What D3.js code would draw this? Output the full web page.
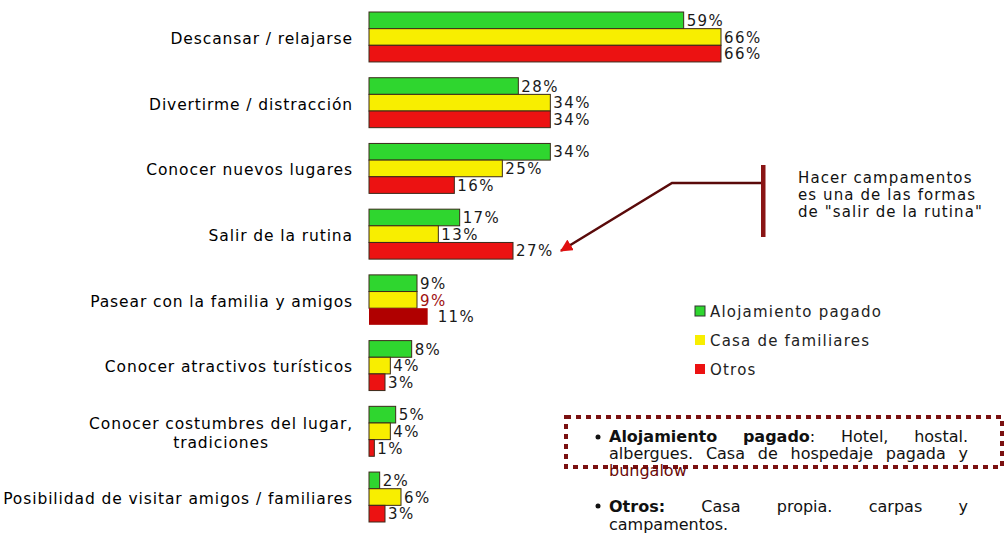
<!DOCTYPE html>
<html>
<head>
<meta charset="utf-8">
<script src="https://cdn.jsdelivr.net/npm/d3@7"></script>
<style>
  body { margin: 0; background: #fff; }
  svg { display: block; font-family: "DejaVu Sans", Verdana, sans-serif; }
</style>
</head>
<body>
<svg id="chart" width="1004" height="536"></svg>
<script>
const categories = [
  "Descansar / relajarse",
  "Divertirme / distracción",
  "Conocer nuevos lugares",
  "Salir de la rutina",
  "Pasear con la familia y amigos",
  "Conocer atractivos turísticos",
  "Conocer costumbres del lugar,|tradiciones",
  "Posibilidad de visitar amigos / familiares"
];
const seriesNames = ["Alojamiento pagado", "Casa de familiares", "Otros"];
const pagado = [59, 28, 34, 17, 9, 8, 5, 2];
const familiares = [66, 34, 25, 13, 9, 4, 4, 6];
const otros = [66, 34, 16, 27, 11, 3, 1, 3];

const colors = ["#2fd62f", "#f8ee00", "#ec1212"];

const svg = d3.select("#chart");

const rows = categories.map((c, i) => ({
  cat: c,
  vals: [pagado[i], familiares[i], otros[i]]
}));

const x = d3.scaleLinear().domain([0, 66]).range([369, 721]);
const y = d3.scaleBand().domain(categories).range([12, 522]).paddingInner(0.24).paddingOuter(0);
const ys = d3.scaleBand().domain(seriesNames).range([0, y.bandwidth()]);

const groups = svg.selectAll(".grp")
  .data(rows)
  .enter().append("g")
  .attr("class", "grp")
  .attr("transform", d => "translate(0," + y(d.cat) + ")");

groups.selectAll("rect")
  .data((d, i) => d.vals.map((v, j) => ({v: v, s: seriesNames[j], j: j, i: i})))
  .enter().append("rect")
  .attr("x", x(0))
  .attr("y", d => ys(d.s))
  .attr("width", d => x(d.v) - x(0))
  .attr("height", ys.bandwidth())
  .attr("fill", d => (d.i === 4 && d.j === 2) ? "#b00000" : colors[d.j])
  .attr("stroke", d => (d.i === 4 && d.j === 2) ? "none" : "#3a2a1a")
  .attr("stroke-width", 1);

groups.selectAll("text.val")
  .data((d, i) => d.vals.map((v, j) => ({v: v, s: seriesNames[j], j: j, i: i})))
  .enter().append("text")
  .attr("class", "val")
  .attr("x", d => x(d.v) + 3 + (d.i === 4 && d.j === 2 ? 7 : 0))
  .attr("y", d => ys(d.s) + ys.bandwidth() / 2)
  .attr("dy", "0.38em")
  .attr("font-size", 15)
  .attr("letter-spacing", 1.4)
  .attr("fill", d => (d.i === 4 && d.j === 1) ? "#a01010" : "#1a1a1a")
  .text(d => d.v + "%");

// category labels
function catText(g, xx, yy, anchor, str) {
  return g.append("text")
    .attr("x", xx).attr("y", yy).attr("dy", "0.38em")
    .attr("text-anchor", anchor)
    .attr("font-size", 15.5)
    .attr("letter-spacing", 0.9)
    .attr("fill", "#000")
    .text(str);
}
groups.each(function(d) {
  const g = d3.select(this);
  const parts = d.cat.split("|");
  const cy = y.bandwidth() / 2;
  if (parts.length === 1) {
    catText(g, 353, cy + 1, "end", parts[0]);
  } else {
    const t1 = catText(g, 353, cy - 8, "end", parts[0]);
    const w = t1.node().getComputedTextLength();
    catText(g, 353 - w / 2, cy + 11, "middle", parts[1]);
  }
});

// legend
const legend = svg.append("g").attr("transform", "translate(695,306)");
seriesNames.forEach((s, j) => {
  const lg = legend.append("g").attr("transform", "translate(0," + (j * 29) + ")");
  lg.append("rect")
    .attr("width", 10).attr("height", 10)
    .attr("fill", colors[j])
    .attr("stroke", j === 0 ? "#333" : "none");
  lg.append("text")
    .attr("x", 15).attr("y", 5).attr("dy", "0.38em")
    .attr("font-size", 15)
    .attr("letter-spacing", 1.2)
    .attr("fill", "#222")
    .text(s);
});

// annotation
const salir = categories[3];
const tipX = x(otros[3]) + 48;
const tipY = y(salir) + ys("Otros") + ys.bandwidth() / 2;
svg.append("defs").append("marker")
  .attr("id", "arr")
  .attr("viewBox", "0 0 10 10")
  .attr("refX", 9).attr("refY", 5)
  .attr("markerWidth", 5).attr("markerHeight", 5)
  .attr("orient", "auto")
  .append("path")
  .attr("d", "M0,0L10,5L0,10z")
  .attr("fill", "#e01010");
svg.append("polyline")
  .attr("points", [[763, 183], [672, 183], [tipX, tipY]].map(p => p.join(",")).join(" "))
  .attr("fill", "none")
  .attr("stroke", "#5a0a0a")
  .attr("stroke-width", 2.5)
  .attr("marker-end", "url(#arr)");
svg.append("rect")
  .attr("x", 761).attr("y", 165).attr("width", 4.5).attr("height", 72)
  .attr("fill", "#8a1515");
const note = ["Hacer campamentos", "es una de las formas", "de \"salir de la rutina\""];
svg.append("text")
  .attr("font-size", 15)
  .attr("letter-spacing", 1.1)
  .attr("fill", "#111")
  .selectAll("tspan")
  .data(note)
  .enter().append("tspan")
  .attr("x", 798)
  .attr("y", (d, i) => 183 + i * 17)
  .text(d => d);

// definitions box
svg.append("rect")
  .attr("x", 566).attr("y", 417).attr("width", 436).attr("height", 50)
  .attr("fill", "none")
  .attr("stroke", "#7a1010")
  .attr("stroke-width", 4)
  .attr("stroke-dasharray", "5,5");

// each word is a list of [text, bold] pieces; words are spread to fill x0..x1
function justify(words, x0, x1, yy, size, color) {
  const t = svg.append("text").attr("y", yy).attr("font-size", size).attr("fill", color || "#111");
  const wordSpans = words.map(w => w.map(p => t.append("tspan")
    .attr("font-weight", p[1] ? "bold" : "normal")
    .text(p[0])));
  const widths = wordSpans.map(ss => d3.sum(ss, s => s.node().getComputedTextLength()));
  const total = d3.sum(widths);
  const gap = words.length > 1 ? (x1 - x0 - total) / (words.length - 1) : 0;
  let cx = x0;
  wordSpans.forEach((ss, k) => {
    ss[0].attr("x", cx);
    cx += widths[k] + gap;
  });
}
function bullet(cx, cy) {
  svg.append("circle").attr("cx", cx).attr("cy", cy).attr("r", 2.5).attr("fill", "#111");
}
bullet(598, 437);
justify([[["Alojamiento", 1]], [["pagado", 1], [":", 0]], [["Hotel,", 0]], [["hostal.", 0]]], 609, 968, 442, 16);
justify([[["albergues.", 0]], [["Casa", 0]], [["de", 0]], [["hospedaje", 0]], [["pagada", 0]], [["y", 0]]], 609, 968, 459, 16);
justify([[["bungalow", 0]]], 609, 700, 476, 16, "#6a0a0a");
bullet(598, 506);
justify([[["Otros:", 1]], [["Casa", 0]], [["propia.", 0]], [["carpas", 0]], [["y", 0]]], 609, 968, 512, 16);
justify([[["campamentos.", 0]]], 609, 760, 530, 16);
</script>
</body>
</html>
